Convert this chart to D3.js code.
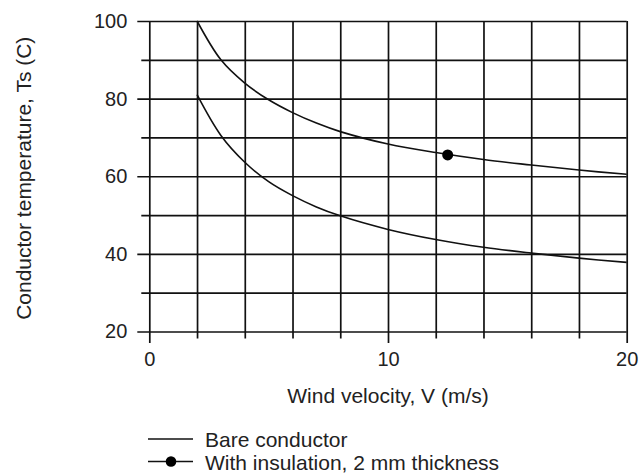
<!DOCTYPE html>
<html>
<head>
<meta charset="utf-8">
<script src="https://cdn.jsdelivr.net/npm/d3@7"></script>
<style>
  html, body { margin: 0; padding: 0; background: #fff; }
  svg { display: block; font-family: "Liberation Sans", Arial, sans-serif; }
</style>
</head>
<body>
<svg id="chart" width="639" height="473"></svg>
<script>
// ---- Data ----
const velocity        = [2, 3, 4, 5, 6, 7, 8, 10, 12, 14, 16, 18, 20];
const bareTemp        = [81, 70.5, 63.6, 58.6, 55, 52.1, 49.8, 46.3, 43.7, 41.7, 40.2, 38.9, 37.8];
const insulationTemp  = [100, 90, 84, 79.7, 76.4, 73.7, 71.5, 68.3, 66.1, 64.3, 62.9, 61.6, 60.5];
const markerVelocity  = [12.5];
const markerTemp      = [65.5];
const xMajorTicks     = [0, 10, 20];
const xMinorTicks     = [2, 4, 6, 8, 12, 14, 16, 18];
const yMajorTicks     = [20, 40, 60, 80, 100];
const yMinorTicks     = [30, 50, 70, 90];
const seriesNames     = ["Bare conductor", "With insulation, 2 mm thickness"];
const xTitle = "Wind velocity, V (m/s)";
const yTitle = "Conductor temperature, Ts (C)";

// ---- Layout ----
const svg = d3.select("#chart");
const x0 = 149.3, x1 = 626.7, yTop = 21, yBot = 331.5;
const W = x1 - x0, H = yBot - yTop;
const x = d3.scaleLinear().domain([0, 20]).range([x0, x1]);
const y = d3.scaleLinear().domain([20, 100]).range([yBot, yTop]);
const ink = "#111";
const gridW = 1.7;

function styleAxis(g) {
  g.select(".domain").remove();
  g.selectAll(".tick line").attr("stroke", ink).attr("stroke-width", gridW);
  g.selectAll(".tick text").attr("fill", "#222").attr("font-size", 20)
    .attr("font-family", "'Liberation Sans', Arial, sans-serif");
}

// Y grid + major ticks (extend 12px left of the plot)
svg.append("g")
  .attr("transform", `translate(${x0 - 12},0)`)
  .call(d3.axisLeft(y).tickValues(yMajorTicks).tickSize(-(W + 12)).tickPadding(10).tickFormat(d3.format("d")))
  .call(styleAxis);
// Y grid minor (extend 8px)
svg.append("g")
  .attr("transform", `translate(${x0 - 8},0)`)
  .call(d3.axisLeft(y).tickValues(yMinorTicks).tickSize(-(W + 8)).tickFormat(""))
  .call(styleAxis);
// X grid + major ticks (extend 11.5px below)
svg.append("g")
  .attr("transform", `translate(0,${yBot + 11.5})`)
  .call(d3.axisBottom(x).tickValues(xMajorTicks).tickSize(-(H + 11.5)).tickPadding(9).tickFormat(d3.format("d")))
  .call(styleAxis);
// X grid minor (extend 7px)
svg.append("g")
  .attr("transform", `translate(0,${yBot + 7})`)
  .call(d3.axisBottom(x).tickValues(xMinorTicks).tickSize(-(H + 7)).tickFormat(""))
  .call(styleAxis);

// Curves
const line = d3.line().x(d => x(d[0])).y(d => y(d[1])).curve(d3.curveCatmullRom.alpha(0.5));
svg.append("path")
  .datum(d3.zip(velocity, bareTemp))
  .attr("d", line).attr("fill", "none").attr("stroke", ink).attr("stroke-width", 1.6);
svg.append("path")
  .datum(d3.zip(velocity, insulationTemp))
  .attr("d", line).attr("fill", "none").attr("stroke", ink).attr("stroke-width", 1.6);
svg.selectAll("circle.marker")
  .data(d3.zip(markerVelocity, markerTemp))
  .enter().append("circle").attr("class", "marker")
  .attr("cx", d => x(d[0])).attr("cy", d => y(d[1])).attr("r", 5.5).attr("fill", "#000");

// Axis titles
svg.append("text")
  .attr("x", (x0 + x1) / 2).attr("y", 403)
  .attr("text-anchor", "middle").attr("font-size", 21).attr("fill", "#222")
  .text(xTitle);
svg.append("text")
  .attr("transform", `translate(31,${(yTop + yBot) / 2 + 2}) rotate(-90)`)
  .attr("text-anchor", "middle").attr("font-size", 21).attr("fill", "#222")
  .text(yTitle);

// Legend
const legend = svg.append("g");
const legY = [439, 461.5];
seriesNames.forEach((name, i) => {
  legend.append("line")
    .attr("x1", 148).attr("x2", 193).attr("y1", legY[i]).attr("y2", legY[i])
    .attr("stroke", ink).attr("stroke-width", 1.6);
  if (i === 1) {
    legend.append("circle").attr("cx", 171).attr("cy", legY[i]).attr("r", 5.3).attr("fill", "#000");
  }
  legend.append("text")
    .attr("x", 205).attr("y", legY[i] + 8)
    .attr("font-size", 21).attr("fill", "#222")
    .text(name);
});
</script>
</body>
</html>
